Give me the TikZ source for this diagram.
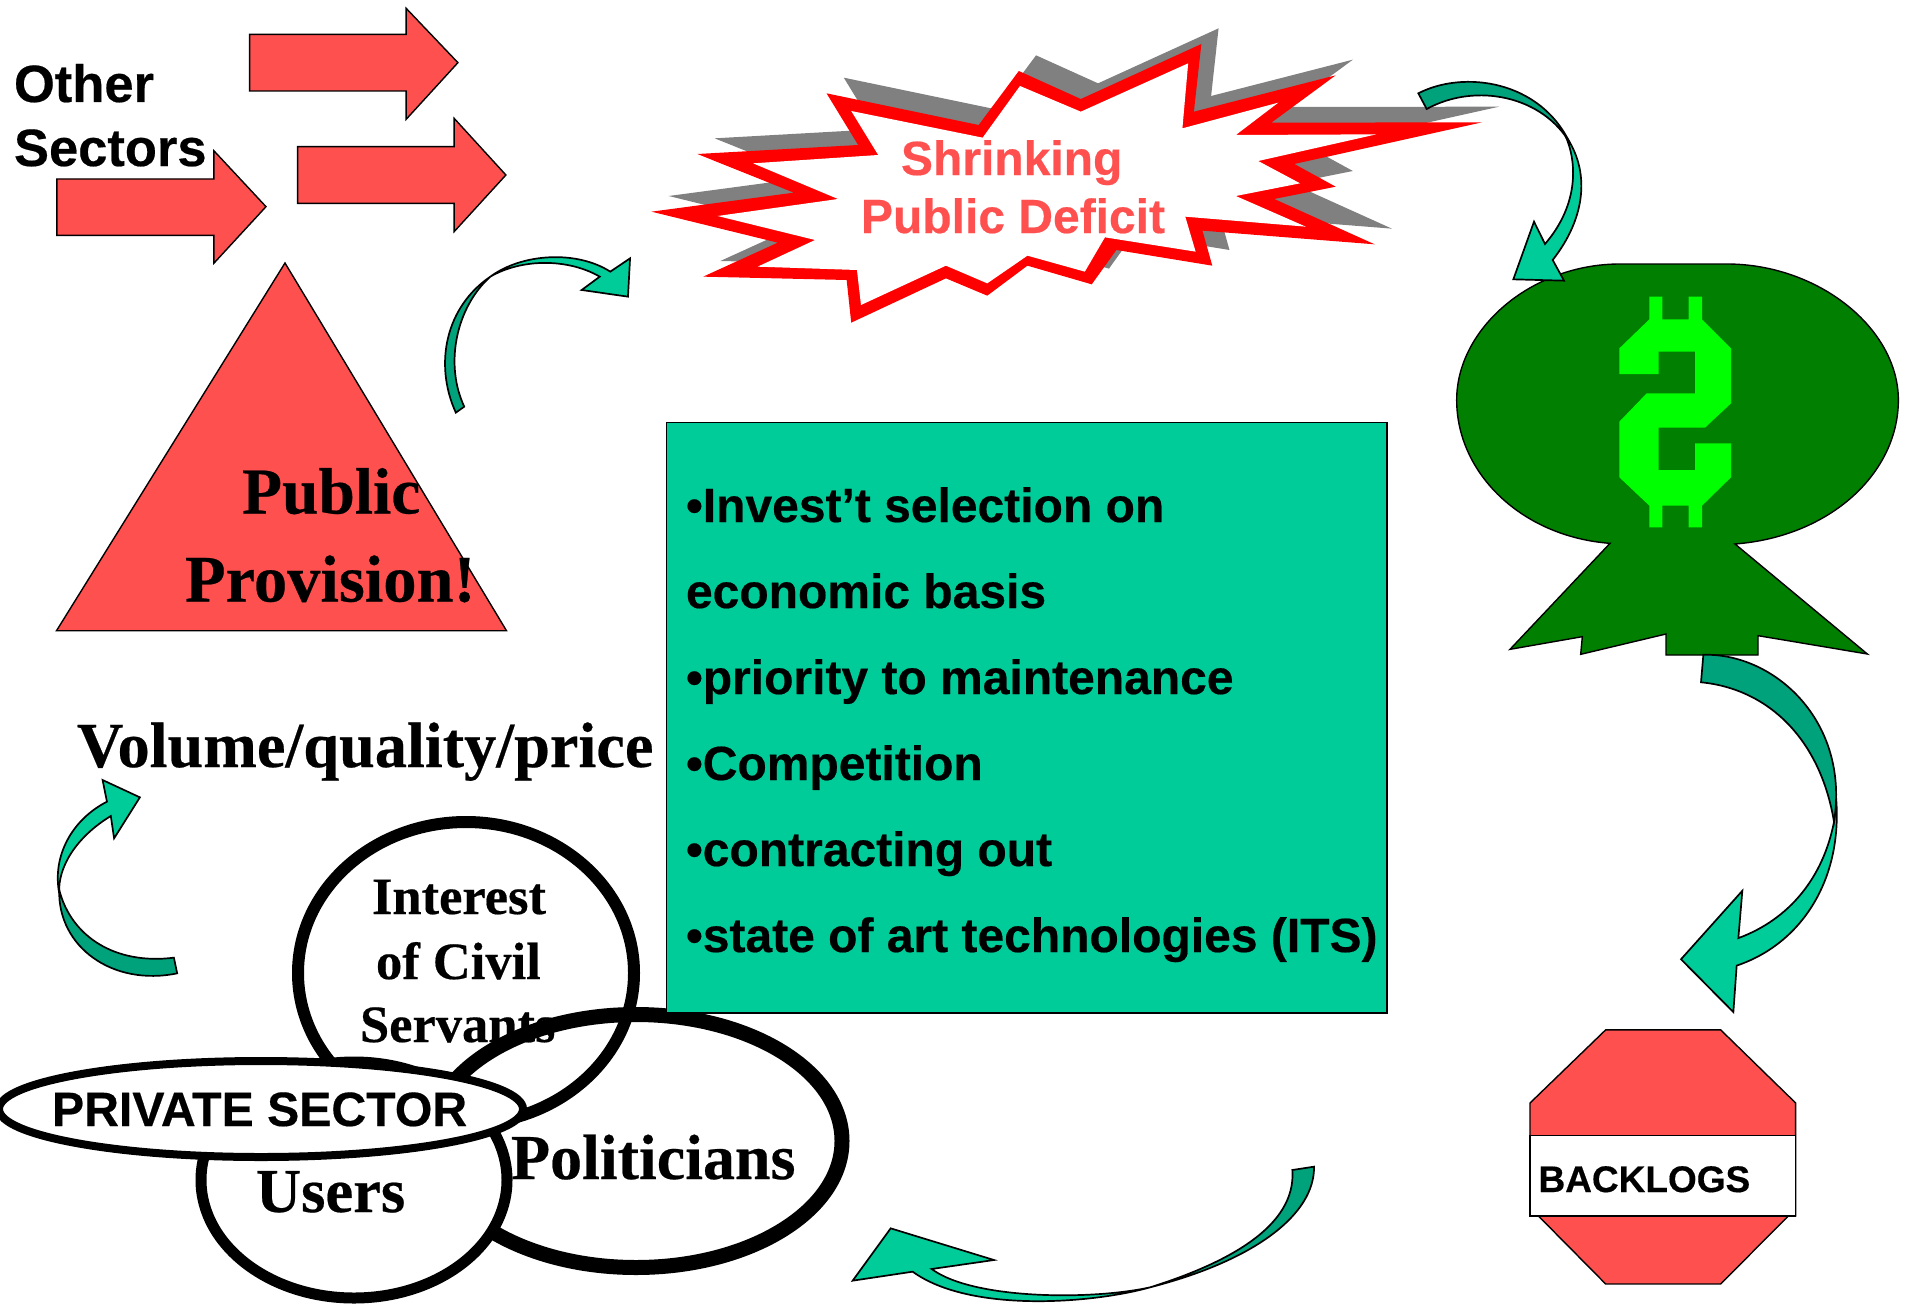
\documentclass[tikz,border=0pt]{standalone}
\usepackage{fontspec}
\setmainfont{Liberation Serif}[BoldFeatures={FakeBold=0.35}]
\setsansfont{Liberation Sans}[BoldFeatures={FakeBold=0.4}]
\definecolor{cred}{HTML}{FF5050}
\definecolor{cgreen}{HTML}{00CC99}
\definecolor{cdark}{HTML}{00A27C}
\definecolor{cblob}{HTML}{007F00}
\definecolor{cdollar}{HTML}{00FF00}
\definecolor{cgray}{HTML}{808080}
\definecolor{cburst}{HTML}{FF0000}
\tikzset{
  shapeline/.style={draw=black,line width=1.4pt,line join=miter},
  redshape/.style={shapeline,fill=cred},
  lightarrow/.style={shapeline,line width=1.7pt,fill=cgreen},
  darkarrow/.style={shapeline,line width=1.7pt,fill=cdark},
  ring/.style={draw=black,line width=#1},
  lab/.style={anchor=base west,inner sep=0pt,outer sep=0pt,text=black},
}
\newcommand{\sanslab}[5][black]{\node[lab,text=#1] (#2) at (#3) {\sffamily\bfseries\fontsize{#4}{#4}\selectfont #5};}
\newcommand{\seriflab}[4]{\node[lab] (#1) at (#2) {\rmfamily\bfseries\fontsize{#3}{#3}\selectfont #4};}
\begin{document}
\begin{tikzpicture}[x=1pt,y=-1pt]
\useasboundingbox (0,0) rectangle (1910,1303);
\fill[white] (0,0) rectangle (1910,1303);

% Block arrows
\begin{scope}[xscale=0.42088,yscale=0.33333]
\draw[redshape] (593,103) -- (965,103) -- (965,25) -- (1088,188) -- (965,358) -- (965,273) -- (593,273) -- cycle;
\draw[redshape] (707,440) -- (1079,440) -- (1079,355) -- (1202,525) -- (1079,695) -- (1079,610) -- (707,610) -- cycle;
\draw[redshape] (135,537) -- (508,537) -- (508,452) -- (632,620) -- (508,790) -- (508,706) -- (135,706) -- cycle;
% Arrow from triangle to burst
\draw[darkarrow] (1083,1238) .. controls (1030,1090) and (1060,920) .. (1165,830) .. controls (1085,920) and (1055,1090) .. (1103,1220) -- cycle;
\draw[lightarrow] (1165,830) .. controls (1240,760) and (1370,750) .. (1450,815) -- (1497,775) -- (1492,890) -- (1382,870) -- (1425,830) .. controls (1350,775) and (1240,775) .. (1165,830) -- cycle;
\end{scope}
\sanslab{other}{14,102}{52.5}{Other}
\sanslab{sectors}{14,166}{52.5}{Sectors}

% Triangle
\draw[redshape] (285,263) -- (506.5,630.7) -- (56.5,630.7) -- cycle;
\seriflab{public}{242,513.5}{65.5}{Public}
\seriflab{provision}{185,601.5}{66.5}{Provision!}

% Burst
\begin{scope}[shift={(640,0)},xscale=0.57398,yscale=0.33333]
\fill[cgray,shift={(30,-47)}] (20,635) -- (268,578) -- (100,462) -- (380,435) -- (325,280) -- (590,375) -- (660,213) -- (768,297) -- (978,132) -- (965,335) -- (1212,226) -- (1100,368) -- (1467,367) -- (1140,492) -- (1212,560) -- (1105,597) -- (1280,733) -- (980,692) -- (997,797) -- (830,750) -- (787,853) -- (675,797) -- (605,887) -- (533,835) -- (368,968) -- (360,840) -- (110,830) -- (240,728) -- cycle;
\fill[cburst] (20,635) -- (268,578) -- (100,462) -- (380,435) -- (325,280) -- (590,375) -- (660,213) -- (768,297) -- (978,132) -- (965,335) -- (1212,226) -- (1100,368) -- (1467,367) -- (1140,492) -- (1212,560) -- (1105,597) -- (1280,733) -- (980,692) -- (997,797) -- (830,750) -- (787,853) -- (675,797) -- (605,887) -- (533,835) -- (368,968) -- (360,840) -- (110,830) -- (240,728) -- cycle;
\fill[white] (135,648) -- (345,597) -- (197,490) -- (415,465) -- (368,333) -- (597,413) -- (662,258) -- (768,335) -- (955,190) -- (945,385) -- (1112,308) -- (1038,405) -- (1283,403) -- (1077,483) -- (1150,550) -- (1038,588) -- (1160,680) -- (950,650) -- (968,755) -- (810,712) -- (775,815) -- (675,767) -- (605,850) -- (533,797) -- (385,915) -- (378,810) -- (205,800) -- (305,720) -- cycle;
\end{scope}
\sanslab[cred]{shrink}{901,175}{48}{Shrinking}
\sanslab[cred]{deficit}{861,233}{48}{Public Deficit}

% Dollar blob
\begin{scope}[shift={(1430,240)},scale=0.33333]
\draw[shapeline,fill=cblob] (540,910) -- (240,1228) -- (457,1190) -- (452,1243) -- (708,1182) -- (708,1245) -- (984,1245) -- (984,1187) -- (1312,1242) -- (915,912)
  .. controls (1200,890) and (1405,700) .. (1405,480)
  .. controls (1405,265) and (1165,72) .. (890,72) -- (570,72)
  .. controls (305,72) and (80,265) .. (80,480)
  .. controls (80,700) and (275,890) .. (540,910) -- cycle;
\fill[cdollar] (658,170) -- (697,170) -- (697,238) -- (776,238) -- (776,170) -- (816,170) -- (816,238) -- (903,325) -- (903,490) -- (825,563) -- (686,563) -- (686,690) -- (795,690) -- (795,610) -- (903,610) -- (903,712) -- (816,797) -- (816,862) -- (776,862) -- (776,797) -- (697,797) -- (697,862) -- (658,862) -- (658,797) -- (568,712) -- (568,545) -- (650,460) -- (795,460) -- (795,335) -- (686,335) -- (686,402) -- (568,402) -- (568,325) -- (658,238) -- cycle;
\end{scope}

% Arrow from burst to blob
\begin{scope}[shift={(1400,60)},scale=0.33333]
\draw[lightarrow] (495,225) .. controls (530,300) and (540,430) .. (435,552) -- (402,485) -- (340,658) -- (492,662) -- (458,600) .. controls (560,470) and (570,330) .. (495,225) -- cycle;
\draw[darkarrow] (55,100) .. controls (190,30) and (420,60) .. (510,250) .. controls (430,110) and (230,65) .. (80,147) -- cycle;
\end{scope}

% Arrow from blob to backlogs and octagon
\begin{scope}[shift={(1480,640)},xscale=0.33333,yscale=0.42283]
\draw[lightarrow] (1062,430) .. controls (1030,560) and (930,660) .. (775,705) -- (787,593) -- (603,755) -- (760,880) -- (770,770) .. controls (960,720) and (1090,570) .. (1068,370) -- cycle;
\draw[darkarrow] (670,35) .. controls (880,30) and (1110,190) .. (1062,430) .. controls (1020,230) and (860,115) .. (663,100) -- cycle;
\draw[redshape] (377,922) -- (722,922) -- (947,1095) -- (947,1362) -- (925,1362) -- (722,1523) -- (377,1523) -- (175,1362) -- (150,1362) -- (150,1095) -- cycle;
\draw[shapeline,fill=white] (150,1172) rectangle (947,1362);
\end{scope}
\sanslab{backlogs}{1538.5,1192}{37}{BACKLOGS}

% Bottom arrow
\begin{scope}[shift={(840,1150)},scale=0.33333]
\draw[darkarrow] (1357,60) -- (1422,50) .. controls (1425,190) and (1250,330) .. (930,412) .. controls (1160,340) and (1370,230) .. (1357,60) -- cycle;
\draw[lightarrow] (930,412) .. controls (760,460) and (390,490) .. (218,365) -- (38,392) -- (152,235) -- (462,330) -- (275,357) .. controls (400,450) and (760,450) .. (930,412) -- cycle;
\end{scope}

% Left bottom arrow
\begin{scope}[shift={(0,780)},xscale=0.54855,yscale=0.33333]
\draw[darkarrow] (323,580) .. controls (205,620) and (105,500) .. (108,330) .. controls (130,470) and (210,555) .. (317,533) -- cycle;
\draw[lightarrow] (108,340) .. controls (95,230) and (130,120) .. (195,65) -- (187,0) -- (255,52) -- (208,175) -- (202,108) .. controls (140,170) and (105,260) .. (108,340) -- cycle;
\end{scope}
\seriflab{volume}{77,767}{64.3}{Volume/quality/price}

% Overlapping ellipses
\draw[ring=12pt] (466,973) ellipse [x radius=168,y radius=151];
\seriflab{interest}{372,914}{52.5}{Interest}
\seriflab{civil}{376,979}{52.5}{of Civil}
\seriflab{servants}{360,1042}{52.5}{Servants}
\draw[ring=15pt] (636,1141) ellipse [x radius=206,y radius=126.5];
\draw[ring=11pt,fill=white] (354,1180) ellipse [x radius=153,y radius=118];
\draw[ring=8pt,fill=white] (261,1109) ellipse [x radius=262,y radius=48];
\sanslab{private}{52,1126}{48.2}{PRIVATE SECTOR}
\seriflab{users}{256,1212}{62.5}{Users}
\seriflab{politicians}{511,1179}{64}{Politicians}

% Green box
\draw[shapeline,fill=cgreen] (666.5,422.5) rectangle (1387,1013);
\sanslab{li1}{686,522}{48}{•Invest’t selection on}
\sanslab{li2}{686,608}{48}{economic basis}
\sanslab{li3}{686,694}{48}{•priority to maintenance}
\sanslab{li4}{686,780}{48}{•Competition}
\sanslab{li5}{686,866}{48}{•contracting out}
\sanslab{li6}{686,952}{48}{•state of art technologies (ITS)}
\end{tikzpicture}
\end{document}
